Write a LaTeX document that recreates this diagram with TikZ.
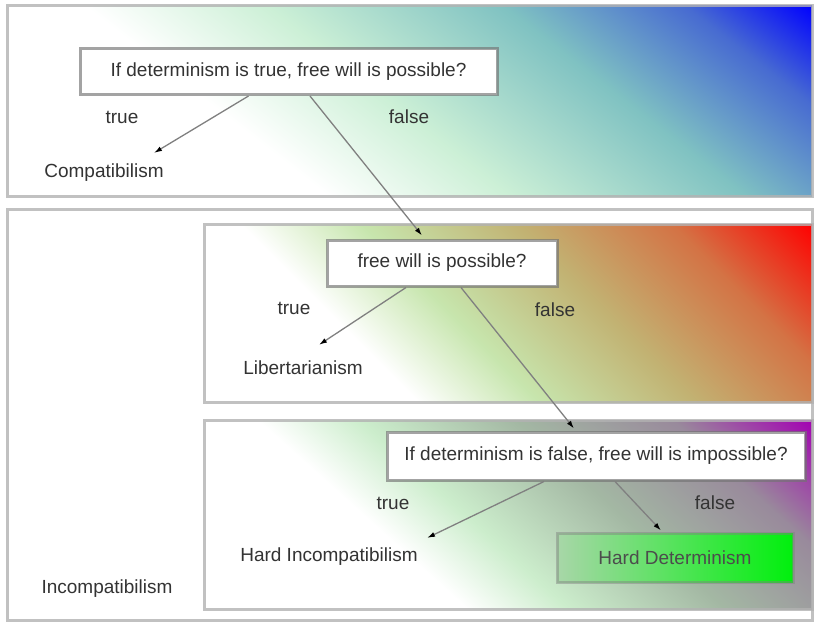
\documentclass[tikz,border=0pt]{standalone}
\usepackage{fontspec}
\setmainfont{Liberation Sans}
\usetikzlibrary{calc,arrows.meta}

% colours of the three shaded panels
\definecolor{compmint}{rgb}{0.80,0.94,0.84}
\definecolor{compteal}{rgb}{0.50,0.76,0.76}
\definecolor{compblue}{rgb}{0.28,0.42,0.82}
\definecolor{libgreen}{rgb}{0.78,0.90,0.68}
\definecolor{libtan}{rgb}{0.76,0.70,0.45}
\definecolor{liborange}{rgb}{0.83,0.45,0.27}
\definecolor{incmint}{rgb}{0.80,0.93,0.80}
\definecolor{incgray}{rgb}{0.64,0.72,0.64}
\definecolor{incmauve}{rgb}{0.60,0.54,0.61}
\definecolor{incpurple}{rgb}{0.64,0.00,0.70}
\definecolor{detleft}{rgb}{0.66,0.84,0.66}
\definecolor{detright}{rgb}{0.00,0.94,0.05}

\pgfdeclarehorizontalshading{compatshade}{100bp}{color(0bp)=(white); color(40.5bp)=(white);
  color(49bp)=(compmint); color(60bp)=(compteal); color(68.5bp)=(compblue); color(74.5bp)=(blue); color(100bp)=(blue)}
\pgfdeclarehorizontalshading{libshade}{100bp}{color(0bp)=(white); color(38.9bp)=(white);
  color(46.4bp)=(libgreen); color(56bp)=(libtan); color(65.7bp)=(liborange); color(74.4bp)=(red); color(100bp)=(red)}
\pgfdeclarehorizontalshading{incshade}{100bp}{color(0bp)=(white); color(41.3bp)=(white);
  color(47.4bp)=(incmint); color(56.7bp)=(incgray); color(66.1bp)=(incmauve); color(74.4bp)=(incpurple); color(100bp)=(incpurple)}

\begin{document}
\begin{tikzpicture}[x=1pt,y=-1pt,>={Latex[length=8pt,width=5pt,color=black]},
    every node/.style={font=\fontsize{19}{22}\selectfont,text=black!80,inner sep=2pt},
    question/.style={draw=black!55,draw opacity=0.65,line width=3pt,fill=white,
      minimum height=46pt,inner sep=0pt},
    detbox/.style={draw=black!50,draw opacity=0.45,line width=3pt,left color=detleft,
      right color=detright,minimum width=236pt,minimum height=49pt,text=black!70},
    panel/.style={draw=black!30,draw opacity=0.8,line width=3pt},
    flow/.style={->,draw=black!50,line width=1.3pt}]
    \useasboundingbox (0,0) rectangle (817,622);

    % draw the panels, each shading turned towards its top right corner
    \begin{scope}
        \clip (7,5) rectangle (812,196);
        \shade[shading=compatshade,transform canvas={rotate around={52:(409.5,100.5)}}]
            (79.5,-599.5) rectangle (739.5,800.5);
    \end{scope}
    \draw[panel] (7,5) rectangle (812,196);
    \draw[panel] (7,209) rectangle (812,620);
    \begin{scope}
        \clip (204,224) rectangle (812,402);
        \shade[shading=libshade,transform canvas={rotate around={45:(508,313)}}]
            (223,-387) rectangle (793,1013);
    \end{scope}
    \draw[panel] (204,224) rectangle (812,402);
    \begin{scope}
        \clip (204,420) rectangle (812,609);
        \shade[shading=incshade,transform canvas={rotate around={48:(508,514.5)}}]
            (228,-185.5) rectangle (788,1214.5);
    \end{scope}
    \draw[panel] (204,420) rectangle (812,609);

    % the questions
    \node[question,minimum width=417pt] (q1) at (288.5,71.5) {If determinism is true, free will is possible?};
    \node[question,minimum width=230pt] (q2) at (442,263) {free will is possible?};
    \node[question,minimum width=418pt,minimum height=48pt] (q3) at (596,456) {If determinism is false, free will is impossible?};

    % the answers
    \node (t1) at (122,117) {true};
    \node (f1) at (409,117) {false};
    \node (compat) at (104,173) {Compatibilism};
    \node (t2) at (294,308) {true};
    \node (f2) at (555,310) {false};
    \node (libert) at (303,368) {Libertarianism};
    \node (t3) at (393,503) {true};
    \node (f3) at (715,503) {false};
    \node (hardinc) at (329,557) {Hard Incompatibilism};
    \node[detbox] (harddet) at (675,557.5) {Hard Determinism};
    \node (incompat) at (107,589) {Incompatibilism};

    % draw the arrows
    \draw[flow] ($(q1.south)+(-40,0)$) -- ($(compat.north)+(50,-9)$);
    \draw[flow] ($(q1.south)+(21.5,0)$) -- ($(q2.north)+(-20,-3)$);
    \draw[flow] ($(q2.south)+(-36,0)$) -- ($(libert.north)+(16,-14)$);
    \draw[flow] ($(q2.south)+(19,0)$) -- ($(q3.north)+(-22,-2)$);
    \draw[flow] ($(q3.south)+(-52,0)$) -- ($(hardinc.north)+(98,-8)$);
    \draw[flow] ($(q3.south)+(19,0)$) -- ($(harddet.north)+(-14,-1)$);
\end{tikzpicture}
\end{document}
